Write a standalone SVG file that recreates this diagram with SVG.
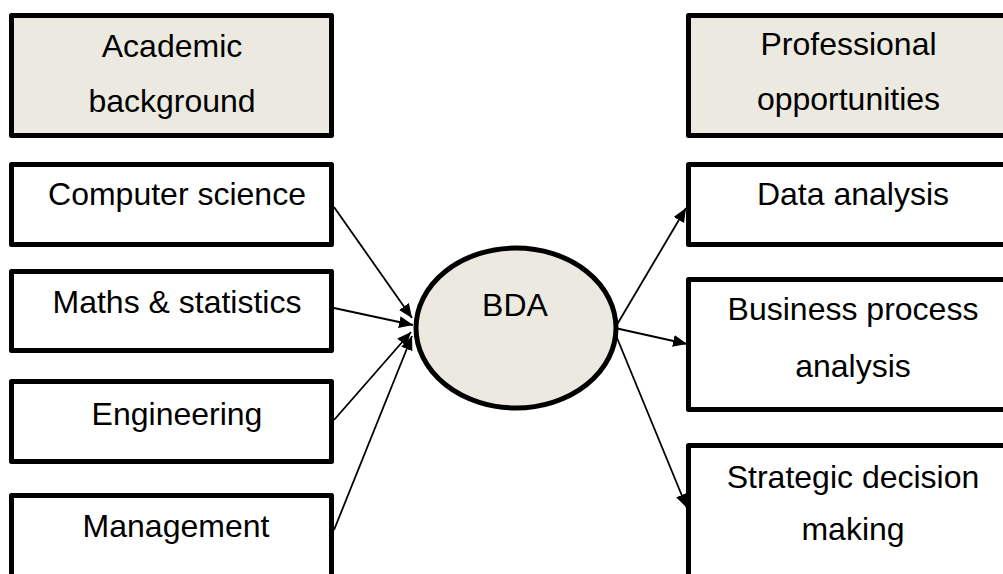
<svg xmlns="http://www.w3.org/2000/svg" width="1003" height="574" viewBox="0 0 1003 574">
<defs>
<marker id="ah" markerUnits="userSpaceOnUse" markerWidth="16" markerHeight="14" refX="14" refY="6" orient="auto">
<path d="M0,0 L14,6 L0,12 Z" fill="#000"/>
</marker>
<style>
.box{fill:#fff;stroke:#000;stroke-width:5;stroke-linejoin:round}
.hdr{fill:#ECEAE0;stroke:#000;stroke-width:5;stroke-linejoin:round}
.ell{fill:#ECEAE0;stroke:#000;stroke-width:5}
text{font-family:"Liberation Sans",Arial,sans-serif;font-size:32px;fill:#000;text-anchor:middle}
.c line{stroke:#000;stroke-width:1.8;marker-end:url(#ah)}
</style>
</defs>
<rect width="1003" height="574" fill="#fff"/>
<g id="academic"><rect class="hdr" x="11.5" y="15.5" width="320" height="120"/><text x="172" y="57">Academic</text><text x="172" y="112">background</text></g>
<g id="professional"><rect class="hdr" x="688.5" y="15.5" width="330" height="120"/><text x="848.5" y="55">Professional</text><text x="848.5" y="110">opportunities</text></g>
<g id="cs"><rect class="box" x="11.5" y="164.5" width="320" height="80"/><text x="177" y="205">Computer science</text></g>
<g id="maths"><rect class="box" x="11.5" y="271.5" width="320" height="79"/><text x="177" y="313">Maths &amp; statistics</text></g>
<g id="eng"><rect class="box" x="11.5" y="381.5" width="320" height="80"/><text x="177" y="425">Engineering</text></g>
<g id="mgmt"><rect class="box" x="11.5" y="495.5" width="320" height="100"/><text x="176" y="537">Management</text></g>
<g id="bda"><ellipse class="ell" cx="516" cy="328" rx="100" ry="80"/><text x="515" y="316">BDA</text></g>
<g id="data"><rect class="box" x="688.5" y="164.5" width="330" height="80"/><text x="853" y="205">Data analysis</text></g>
<g id="bpa"><rect class="box" x="688.5" y="279.5" width="330" height="130"/><text x="853" y="320">Business process</text><text x="853" y="377">analysis</text></g>
<g id="sdm"><rect class="box" x="688.5" y="445.5" width="330" height="150"/><text x="853" y="488">Strategic decision</text><text x="853" y="540">making</text></g>
<g id="connectors" class="c">
<line x1="334" y1="207" x2="412" y2="318"/>
<line x1="334" y1="308" x2="413" y2="325"/>
<line x1="334" y1="420" x2="411" y2="332"/>
<line x1="334" y1="530" x2="412" y2="336"/>
<line x1="615" y1="328" x2="686" y2="208"/>
<line x1="615" y1="328" x2="687" y2="344"/>
<line x1="615" y1="333" x2="687" y2="508"/>
</g>
</svg>
